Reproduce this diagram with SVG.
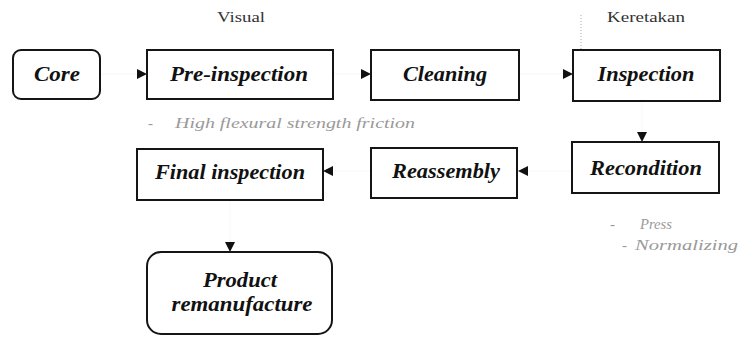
<svg xmlns="http://www.w3.org/2000/svg" width="740" height="341" viewBox="0 0 740 341">
<style>
.box{fill:#fff;stroke:#151515;stroke-width:2}
.lbl{font-family:'Liberation Serif','Times New Roman',Times,serif;font-style:italic;font-weight:bold;font-size:22px;fill:#111;text-anchor:middle}
.note{font-family:'Liberation Serif','Times New Roman',Times,serif;font-size:15px;fill:#333}
.faint{font-family:'Liberation Serif','Times New Roman',Times,serif;font-style:italic;font-size:15px;fill:#999}
.conn{fill:none;stroke:#000;stroke-opacity:0.03;stroke-width:1}
</style>
<defs>
<marker id="ah" viewBox="0 0 10 10" refX="10" refY="5" markerWidth="11" markerHeight="10" markerUnits="userSpaceOnUse" orient="auto">
<path d="M0,0 L10,5 L0,10 Z" fill="#111"/>
</marker>
</defs>
<rect width="740" height="341" fill="#fff"/>
<g id="connectors">
<path class="conn" d="M100,74 L147,74" marker-end="url(#ah)"/>
<path class="conn" d="M333,74 L371,74" marker-end="url(#ah)"/>
<path class="conn" d="M519,74 L573,74" marker-end="url(#ah)"/>
<path class="conn" d="M642,101 L642,142" marker-end="url(#ah)"/>
<path class="conn" d="M572,171 L518,171" marker-end="url(#ah)"/>
<path class="conn" d="M371,171 L323,171" marker-end="url(#ah)"/>
<path class="conn" d="M230,200 L230,252" marker-end="url(#ah)"/>
<path d="M581,15 L581,50" fill="none" stroke="#aaa" stroke-width="1" stroke-dasharray="1,2"/>
</g>
<g id="core"><rect class="box" x="13" y="50" width="87" height="49" rx="8"/><text class="lbl" x="57" y="81" textLength="46" lengthAdjust="spacingAndGlyphs">Core</text></g>
<g id="pre-inspection"><rect class="box" x="147" y="50" width="186" height="49"/><text class="lbl" x="239" y="81" textLength="138" lengthAdjust="spacingAndGlyphs">Pre-inspection</text></g>
<g id="cleaning"><rect class="box" x="371" y="50" width="148" height="50"/><text class="lbl" x="445" y="81" textLength="84" lengthAdjust="spacingAndGlyphs">Cleaning</text></g>
<g id="inspection"><rect class="box" x="573" y="50" width="147" height="51"/><text class="lbl" x="646" y="81" textLength="97" lengthAdjust="spacingAndGlyphs">Inspection</text></g>
<g id="recondition"><rect class="box" x="572" y="142" width="147" height="51"/><text class="lbl" x="646" y="175" textLength="112" lengthAdjust="spacingAndGlyphs">Recondition</text></g>
<g id="reassembly"><rect class="box" x="371" y="148" width="146" height="50"/><text class="lbl" x="446" y="178" textLength="108" lengthAdjust="spacingAndGlyphs">Reassembly</text></g>
<g id="final-inspection"><rect class="box" x="137" y="149" width="186" height="51"/><text class="lbl" x="230" y="179" textLength="150" lengthAdjust="spacingAndGlyphs">Final inspection</text></g>
<g id="product"><rect class="box" x="147" y="252" width="185" height="82" rx="14"/><text class="lbl" x="240" y="287" textLength="74" lengthAdjust="spacingAndGlyphs">Product</text><text class="lbl" x="242" y="311" textLength="141" lengthAdjust="spacingAndGlyphs">remanufacture</text></g>
<g id="notes">
<text class="note" x="217" y="22" textLength="48" lengthAdjust="spacingAndGlyphs">Visual</text>
<text class="note" x="607" y="22" textLength="78" lengthAdjust="spacingAndGlyphs">Keretakan</text>
<text class="faint" x="148" y="128">-</text>
<text class="faint" x="175" y="128" textLength="240" lengthAdjust="spacingAndGlyphs">High flexural strength friction</text>
<text class="faint" x="610" y="229">-</text>
<text class="faint" x="640" y="229" textLength="32" lengthAdjust="spacingAndGlyphs">Press</text>
<text class="faint" x="622" y="250">-</text>
<text class="faint" x="635" y="250" textLength="103" lengthAdjust="spacingAndGlyphs">Normalizing</text>
</g>
</svg>
